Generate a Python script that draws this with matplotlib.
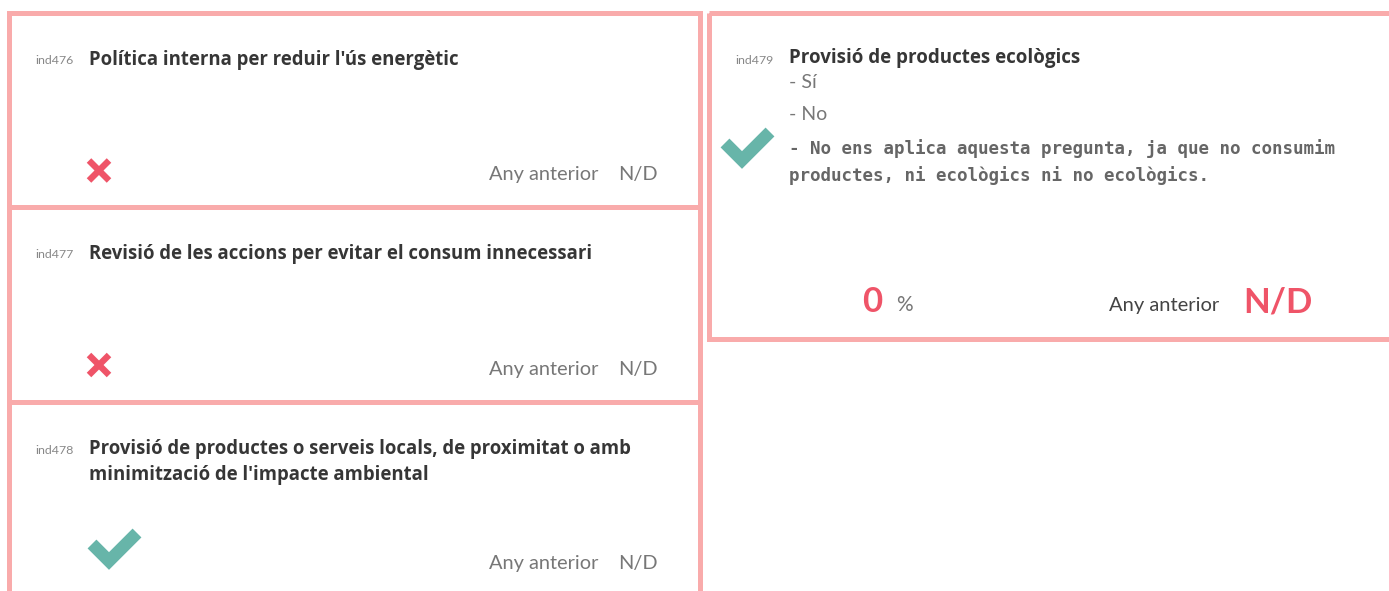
import matplotlib
matplotlib.use("Agg")
import matplotlib.pyplot as plt
from matplotlib.patches import Rectangle

# indicator data
left_ids = ["ind476", "ind477", "ind478"]
left_titles = [
    "Política interna per reduir l'ús energètic",
    "Revisió de les accions per evitar el consum innecessari",
    "Provisió de productes o serveis locals, de proximitat o amb\nminimització de l'impacte ambiental",
]
left_status = [False, False, True]
left_prev = ["N/D", "N/D", "N/D"]

right_id = "ind479"
right_title = "Provisió de productes ecològics"
right_options = ["- Sí", "- No"]
right_answer = "- No ens aplica aquesta pregunta, ja que no consumim\nproductes, ni ecològics ni no ecològics."
right_status = True
right_value = 0
right_prev = "N/D"

PINK = "#f9abab"
RED = "#ef5468"
TEAL = "#67b5a9"
DARK = "#363636"
GREY = "#777777"
FONT = "Lato"
BFONT = "Open Sans"

W, H = 1389, 591
fig = plt.figure(figsize=(W / 100, H / 100), dpi=100)
ax = fig.add_axes([0, 0, 1, 1])
ax.set_xlim(0, W)
ax.set_ylim(H, 0)
ax.axis("off")

lw = 3.6  # ~5px


def cross(x, y, s=10):
    ax.plot([x - s, x + s], [y - s, y + s], color=RED, lw=4.6, solid_capstyle="butt")
    ax.plot([x - s, x + s], [y + s, y - s], color=RED, lw=4.6, solid_capstyle="butt")


def check(x, y):
    # x, y = bottom vertex of the tick (centre line)
    ax.plot([x - 17, x, x + 28], [y - 17, y, y - 28], color=TEAL, lw=9,
            solid_joinstyle="miter", solid_capstyle="butt")


box_top = [12.5, 207, 402]
box_h = [194.5, 195, 260]
for i in range(3):
    top = box_top[i]
    ty = top + 46
    ax.add_patch(Rectangle((8.5, top), 691, box_h[i], fill=False, ec=PINK, lw=lw))
    ax.text(35, ty + 2, left_ids[i], fontsize=8.9, color="#888888", family=FONT, va="center")
    ax.text(89, ty - 9, left_titles[i], fontsize=13.35, color=DARK, family=BFONT,
            weight="bold", va="top", linespacing=1.4)
    iy = top + 158
    if left_status[i]:
        check(109, iy + 1)
    else:
        cross(99, iy)
    ax.text(598, iy + 4, "Any anterior", fontsize=14.4, color=GREY, family=FONT,
            va="center", ha="right")
    ax.text(658, iy + 4, left_prev[i], fontsize=14.4, color=GREY, family=FONT,
            va="center", ha="right")

# right panel
ax.add_patch(Rectangle((708.5, 12.5), 700, 326.5, fill=False, ec=PINK, lw=lw))
ax.text(735, 61, right_id, fontsize=8.9, color="#888888", family=FONT, va="center")
ax.text(789, 58, right_title, fontsize=13.5, color=DARK, family=BFONT,
        weight="bold", va="center")
for k, opt in enumerate(right_options):
    ax.text(789, 83 + 32 * k, opt, fontsize=14, color=GREY, family=FONT, va="center")
ax.text(789, 139, right_answer, fontsize=12.6, color="#666666",
        family="DejaVu Sans Mono", weight="bold", va="top", linespacing=1.55)
if right_status:
    check(742, 160)

ax.text(882, 302, f"{right_value}", fontsize=25, color=RED, family=FONT,
        weight="bold", va="center", ha="right")
ax.text(896, 305, "%", fontsize=15, color=GREY, family=FONT, va="center")
ax.text(1219, 306, "Any anterior", fontsize=14.5, color="#444444", family=FONT,
        va="center", ha="right")
ax.text(1243, 303, right_prev, fontsize=25, color=RED, family=FONT,
        weight="bold", va="center")

fig.savefig("out.png", dpi=100)
